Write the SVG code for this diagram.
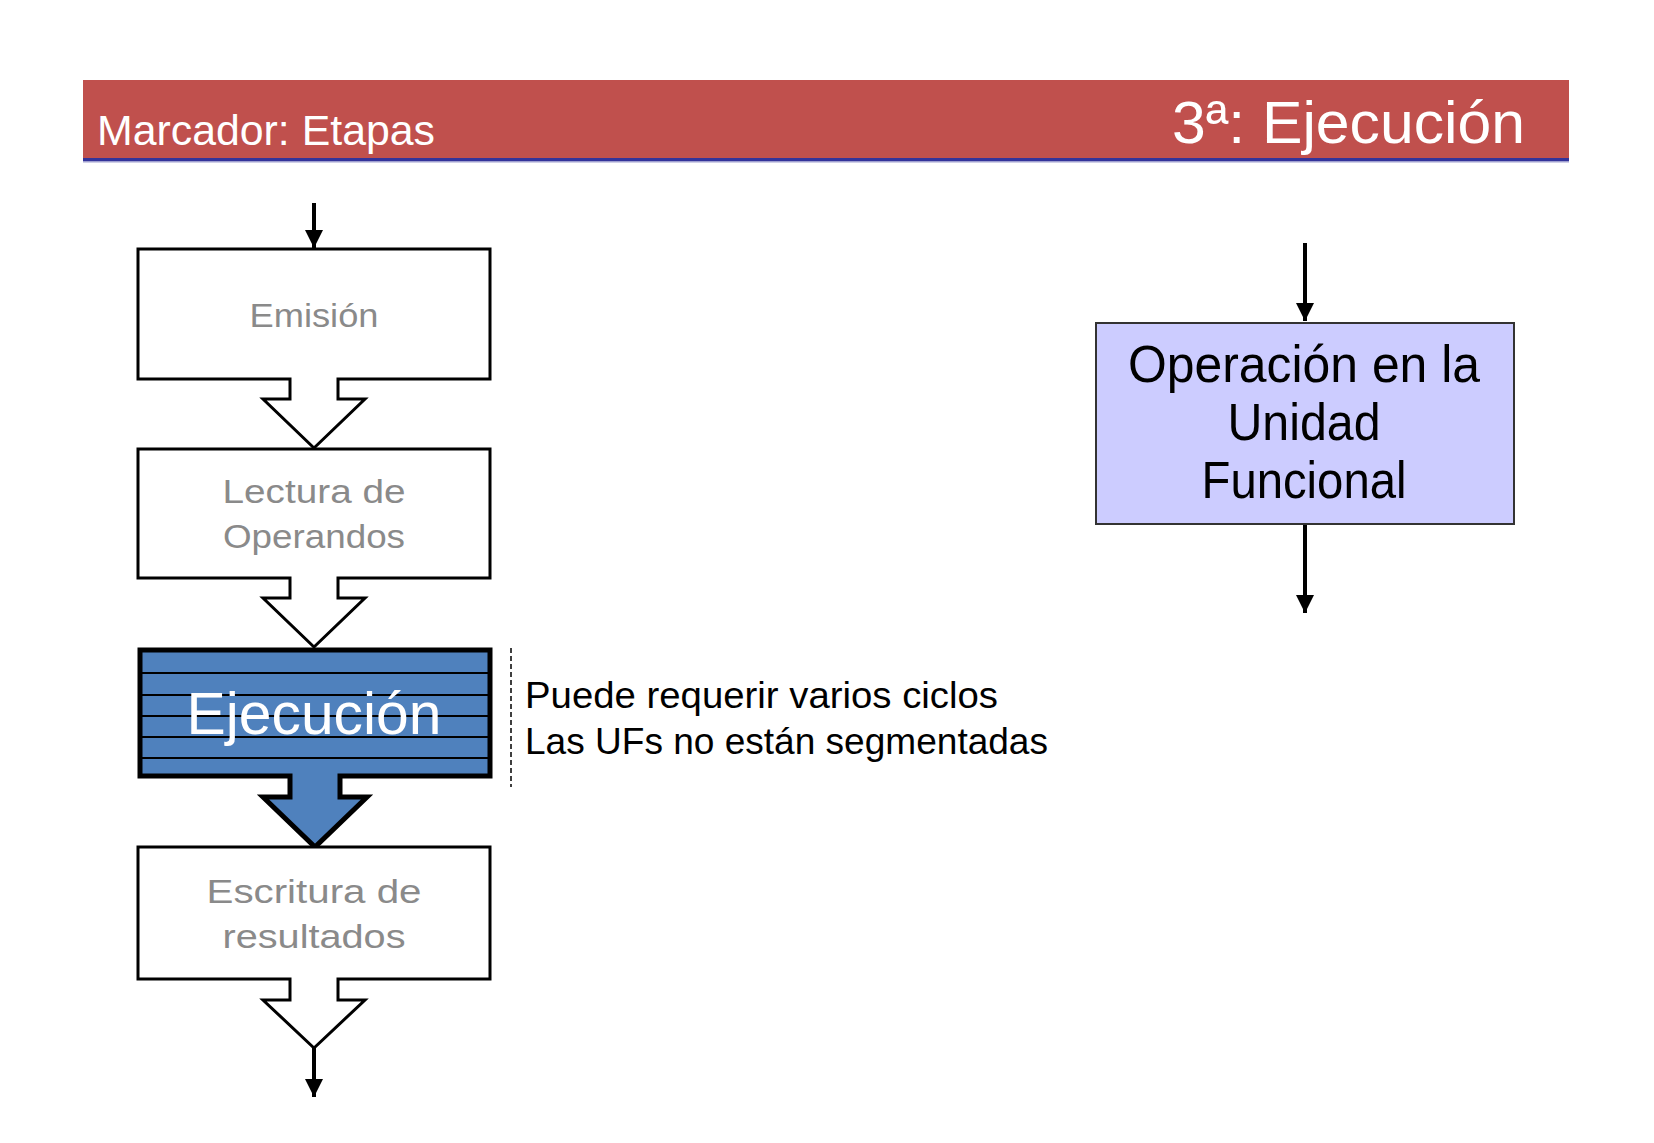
<svg xmlns="http://www.w3.org/2000/svg" width="1654" height="1143" viewBox="0 0 1654 1143">
  <defs>
    <marker id="ah" viewBox="0 0 10 10" refX="10" refY="5" markerWidth="4.5" markerHeight="4.5" orient="auto" markerUnits="strokeWidth">
      <path d="M0,0 L10,5 L0,10 Z" fill="#000"/>
    </marker>
    <style>
      text { font-family: "Liberation Sans", Arial, sans-serif; }
      .stage { fill: #fff; stroke: #000; stroke-width: 3; stroke-linejoin: miter; }
      .lbl { fill: #8a8a8a; font-size: 34px; text-anchor: middle; }
      .conn { stroke: #000; stroke-width: 4; fill: none; }
      .stripe { stroke: #000; stroke-width: 1.8; }
    </style>
  </defs>
  <rect width="1654" height="1143" fill="#fff"/>

  <g id="header">
    <rect x="83" y="80" width="1486" height="79" fill="#c0504d"/>
    <rect x="83" y="158" width="1486" height="3" fill="#33339a"/>
    <rect x="83" y="161" width="1486" height="1.5" fill="#a0a0d0"/>
    <text x="97" y="145" font-size="42" fill="#fff" textLength="338" lengthAdjust="spacingAndGlyphs">Marcador: Etapas</text>
    <text x="1172" y="143" font-size="60" fill="#fff" textLength="353" lengthAdjust="spacingAndGlyphs">3ª: Ejecución</text>
  </g>

  <g id="connectors">
    <line class="conn" x1="314" y1="203" x2="314" y2="248" marker-end="url(#ah)"/>
    <line class="conn" x1="314" y1="1048" x2="314" y2="1097" marker-end="url(#ah)"/>
    <line class="conn" x1="1305" y1="243" x2="1305" y2="321" marker-end="url(#ah)"/>
    <line class="conn" x1="1305" y1="525" x2="1305" y2="613" marker-end="url(#ah)"/>
    <line x1="511" y1="648" x2="511" y2="787" stroke="#000" stroke-width="1.5" stroke-dasharray="5,3"/>
  </g>

  <g id="emision">
    <path class="stage" d="M138,249 H490 V379 H338 V399 H365 L314,448 L263,399 H290 V379 H138 Z"/>
    <text class="lbl" x="314" y="327" textLength="129" lengthAdjust="spacingAndGlyphs">Emisión</text>
  </g>

  <g id="lectura">
    <path class="stage" d="M138,449 H490 V578 H338 V598 H365 L314,647 L263,598 H290 V578 H138 Z"/>
    <text class="lbl" x="314" y="503" textLength="183" lengthAdjust="spacingAndGlyphs">Lectura de</text>
    <text class="lbl" x="314" y="548" textLength="182" lengthAdjust="spacingAndGlyphs">Operandos</text>
  </g>

  <g id="ejecucion">
    <path d="M140,650 H490 V776 H340 V797 H367 L315,847 L263,797 H290 V776 H140 Z" fill="#4f81bd" stroke="#000" stroke-width="5" stroke-linejoin="miter"/>
    <line class="stripe" x1="140" y1="673" x2="490" y2="673"/>
    <line class="stripe" x1="140" y1="695" x2="490" y2="695"/>
    <line class="stripe" x1="140" y1="716" x2="490" y2="716"/>
    <line class="stripe" x1="140" y1="737" x2="490" y2="737"/>
    <line class="stripe" x1="140" y1="758" x2="490" y2="758"/>
    <text x="314" y="734" font-size="60" fill="#fff" text-anchor="middle" textLength="255" lengthAdjust="spacingAndGlyphs">Ejecución</text>
  </g>

  <g id="escritura">
    <path class="stage" d="M138,847 H490 V979 H338 V1000 H365 L314,1048 L263,1000 H290 V979 H138 Z"/>
    <text class="lbl" x="314" y="903" textLength="215" lengthAdjust="spacingAndGlyphs">Escritura de</text>
    <text class="lbl" x="314" y="948" textLength="183" lengthAdjust="spacingAndGlyphs">resultados</text>
  </g>

  <g id="nota">
    <text x="525" y="708" font-size="36" fill="#000" textLength="473" lengthAdjust="spacingAndGlyphs">Puede requerir varios ciclos</text>
    <text x="525" y="754" font-size="36" fill="#000" textLength="523" lengthAdjust="spacingAndGlyphs">Las UFs no están segmentadas</text>
  </g>

  <g id="operacion">
    <rect x="1096" y="323" width="418" height="201" fill="#ccccff" stroke="#333" stroke-width="2"/>
    <text x="1304" y="382" font-size="52" fill="#000" text-anchor="middle" textLength="352" lengthAdjust="spacingAndGlyphs">Operación en la</text>
    <text x="1304" y="440" font-size="52" fill="#000" text-anchor="middle" textLength="153" lengthAdjust="spacingAndGlyphs">Unidad</text>
    <text x="1304" y="498" font-size="52" fill="#000" text-anchor="middle" textLength="205" lengthAdjust="spacingAndGlyphs">Funcional</text>
  </g>
</svg>
